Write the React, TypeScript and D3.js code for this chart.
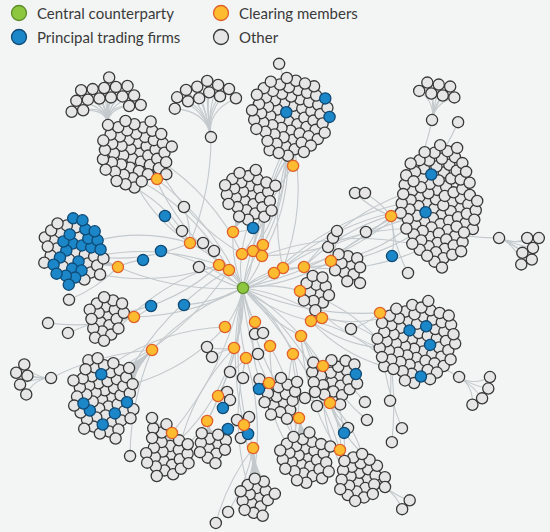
import React, { useMemo } from "react";
import * as d3 from "d3";

const W = 550;
const H = 532;

// ---------- Legend ----------
const legendLabels = ["Central counterparty", "Principal trading firms", "Clearing members", "Other"];
const legendKinds = ["ccp", "ptf", "cm", "other"];

// ---------- Clearing members (hubs): polar position around the CCP (deg, dist) ----------
const hubAngle = [-67.7, -25.9, -170.5, -128.3, -100.1, 145.7, 165.1, 10.3, 116.1, 66.7, 59.1, 86.4, 105.1, 74.7, 44.3, -17.1, 3.0, -139.7, -65.1, -74.9, -91.7, -59.3, -136.2, -127.9, -26.6, -25.8, -19.0, 70.6, 114.8, 25.9, 20.8, 39.6, 98.5, 65.0, 52.9, 87.5, 103.0, 89.6, 52.9];
const hubDist = [132, 164.6, 126.8, 138.8, 56.9, 110.1, 112.8, 139.3, 161.4, 141.5, 188.8, 160.3, 137.8, 98.5, 111.7, 92.0, 57.1, 69.5, 47.4, 38.3, 34.0, 37.2, 33.2, 22.8, 44.7, 34.4, 64.5, 36.1, 43.0, 75.6, 84.5, 75.3, 60.7, 64.0, 82.8, 70.1, 110.9, 137.0, 144.2];

// ---------- Client clusters of each clearing member ----------
const clusterHub = [0, 1, 2, 3, 4, 5, 6, 7, 8, 9, 10, 11, 12, 13, 14, 15, 16];
const clusterAngle = [-93, -13, -160, -128, -64.7, 135.6, 178, 38.5, 104.7, 80, 54.5, 86.5, 78.7, 53.7, 50.2, 17.4, 4];
const clusterDist = [50, 48, 47, 31, 40, 67, 28, 45, 20, 41, 34, 49, 26, 19, 16, 17, 14];
const clusterSize = [68, 95, 45, 50, 30, 55, 20, 70, 24, 30, 25, 16, 12, 16, 22, 10, 12];
const clusterAspect = [0.95, 2.3, 1.1, 1, 1, 1.3, 1, 0.9, 1, 1, 1, 1, 1, 1, 1, 1, 1];
// principal trading firms inside each cluster: polar spot around the cluster centre (deg, dist)
const clusterBlueAngle = [
  [180, -28.4, -1.4],
  [-95, 135],
  [-72.4, -80, -48.1, -30.7, -100, -67.2, -49.4, -26.6, -138, -78.7, -45, -9.5, 160.3, 149, 63.4, 143.6, 100.6, 60.9, 135, 122.5, 106.7, 113.4],
  [], [],
  [-107.7, 151, 129.8, 88, 51.8, 15],
  [],
  [-118.3, -53.7, 28.6, 77],
  [], [], [], [], [], [],
  [-6.8],
  [], [],
];
const clusterBlueDist = [
  [7, 42, 42],
  [34, 14],
  [43, 34.5, 39, 43, 17.3, 20.6, 27.7, 33.5, 13.5, 5.1, 12.7, 24.3, 14.9, 5.8, 8.9, 23.6, 16.3, 20.6, 35.4, 26.1, 31.3, 40.3],
  [], [],
  [23, 22.8, 23.4, 28, 17.8, 26.9],
  [],
  [14.8, 18.6, 12.5, 40],
  [], [], [], [], [], [],
  [25.2],
  [], [],
];

// ---------- Secondary fans (an "other" node with its own counterparties) ----------
const fanParent = [3, 17, 1, 1, 5, 7, 10, 0, 1];
const fanSubAngle = [-132.2, -78.8, -66.9, 11.5, 164.5, 39, 39.4, -97.8, -54.5];
const fanSubDist = [72.9, 108, 104.4, 110.2, 104.8, 101.7, 58.3, 103, 115.4];
const fanAngle = [-94.5, -100, -79.4, 22.4, 180, 32.7, 38, 0, 0];
const fanDist = [36, 48, 32.6, 34, 30, 31, 28, 0, 0];
const fanSize = [16, 12, 7, 6, 5, 4, 2, 0, 0];

// ---------- Single firms (polar around CCP), linked to a clearing member (-1 = CCP) ----------
const singleAngle = [-137.3, -155.7, -164.4, 168.9, 163.9, -80.5, -12.1, 55.1, 99.5, 96.1, 88, 81,
  -136.9, -126.1, -154.5, -131.6, -128.1, -25.7, -29.1, -31.2, -40.3, -37.9, -24.5, -5.2, 121.4, 114.2, 98.8, 90, 77.2, 60.1, 60.6, 55.3, 57.9, 53.1, 43.1, 46.8, 37.5, 41.4, 46, 123.9, 125, 121.2, 93.8, 96.6, 169.8, 165.6, 176.1, 92.6, 87.3, 90.8, 98.7, 96.6, 20.8, -2.4, 75.4, 66];
const singleDist = [106.2, 90, 103.8, 93.7, 61.4, 60.8, 152.4, 176.7, 121.7, 141.8, 146.1, 102.3,
  83.5, 100.2, 48.8, 60.2, 47, 94.4, 103, 109.9, 146.9, 154.6, 135.1, 165.7, 69.1, 75.6, 85, 90, 67.7, 108.4, 126.3, 126.5, 139.3, 175, 167, 181.1, 185.4, 211.9, 214.3, 202.5, 158.7, 175.4, 224.5, 236.5, 198.1, 180.7, 174.4, 132.1, 129.1, 150, 105.2, 112.8, 115.5, 117.1, 47.5, 49.2];
const singleParent = [17, -1, 2, 6, -1, 4, 1, 38, 36, 37, 37, 13,
  17, 17, -1, 17, 22, 15, 15, 15, 1, 1, 1, 1, 32, 32, 35, 35, 33, 34, 38, 38, 38, 38, 14, 14, 7, 7, 7, 5, 8, 8, 11, 11, 6, 6, 2, 37, 37, 37, 36, 36, 7, 15, 27, 27];
const singleKind = ["ptf", "ptf", "ptf", "ptf", "ptf", "ptf", "ptf", "ptf", "ptf", "ptf", "ptf", "ptf",
  "other", "other", "other", "other", "other", "other", "other", "other", "other", "other", "other", "other", "other", "other", "other", "other", "other", "other", "other", "other", "other", "other", "other", "other", "other", "other", "other", "other", "other", "other", "other", "other", "other", "other", "other", "other", "other", "other", "other", "other", "other", "other", "other", "other"];

// ---------- Extra links: clearing member -> clients in another cluster ----------
const crossFrom = [18, 19, 21, 20, 23, 17, 22, 17, 24, 25, 26, 15, 16, 29, 30, 31, 34, 38, 33, 27, 32, 35, 28, 23, 22, 36, 37, 31, 14, 13, 19, 21, 24, 20];
const crossTo = [0, 0, 0, 4, 3, 3, 2, 2, 1, 1, 1, 1, 7, 7, 7, 10, 9, 10, 9, 13, 8, 11, 5, 5, 6, 8, 11, 14, 10, 9, 4, 1, 0, 3];
const crossCount = [3, 2, 2, 2, 2, 2, 2, 2, 3, 2, 3, 2, 2, 3, 2, 2, 2, 2, 2, 1, 2, 2, 2, 2, 2, 1, 1, 2, 2, 1, 2, 2, 2, 2];

const FILL: Record<string, string> = { ccp: "#8dc63f", ptf: "#1b86c8", cm: "#fdbb30", other: "#e6e6e6" };
const STROKE: Record<string, string> = { ccp: "#5f8f2c", ptf: "#0f4a75", cm: "#e0602a", other: "#383838" };

const GOLDEN = Math.PI * (3 - Math.sqrt(5));

type Nd = any;
type Lk = { s: Nd; t: Nd; ctrl?: [number, number]; bend?: number };

function polar(a: number, d: number): [number, number] {
  const r = (a * Math.PI) / 180;
  return [Math.cos(r) * d, Math.sin(r) * d];
}

function buildLayout() {
  const nodes: Nd[] = [];
  const links: Lk[] = [];
  const add = (n: Nd) => {
    nodes.push(n);
    return n;
  };
  const ccp = add({ kind: "ccp", x: 0, y: 0, fx: 0, fy: 0, cr: 6 });
  const hubs = hubAngle.map((a, i) => {
    const [x, y] = polar(a, hubDist[i]);
    return add({ kind: "cm", x, y, fx: x, fy: y, cr: 5.5 });
  });
  hubs.forEach((h, i) => links.push({ s: ccp, t: h, bend: i % 2 ? 0.12 : -0.12 }));

  const clusters = clusterHub.map((hi, ci) => {
    const h = hubs[hi];
    const [ox, oy] = polar(clusterAngle[ci], clusterDist[ci]);
    const cx = h.fx + ox;
    const cy = h.fy + oy;
    const s = Math.sqrt(clusterAspect[ci]);
    const leaves = d3.range(clusterSize[ci]).map((i) => {
      const r = 6.6 * Math.sqrt(i + 0.5);
      const a = i * GOLDEN;
      return add({ kind: "other", x: cx + (r * Math.cos(a)) / s, y: cy + r * Math.sin(a) * s, tx: cx, ty: cy, cr: 4.75, free: true, kx: 0.06 * s, ky: 0.06 / s });
    });
    leaves.forEach((l) => links.push({ s: h, t: l, ctrl: [h.fx + ox * 0.55, h.fy + oy * 0.55] }));
    return { hub: h, leaves, cx, cy };
  });

  const fanLeaves: Nd[] = [];
  fanParent.forEach((pi, fi) => {
    const p = hubs[pi];
    const [sx, sy] = polar(fanSubAngle[fi], fanSubDist[fi]);
    const sub = add({ kind: "other", x: p.fx + sx, y: p.fy + sy, fx: p.fx + sx, fy: p.fy + sy, cr: 5 });
    links.push({ s: p, t: sub, bend: 0.1 });
    const [ox, oy] = polar(fanAngle[fi], fanDist[fi]);
    const cx = sub.fx + ox;
    const cy = sub.fy + oy;
    d3.range(fanSize[fi]).forEach((i) => {
      const r = 7 * Math.sqrt(i + 0.5);
      const a = i * GOLDEN;
      const l = add({ kind: "other", x: cx + r * Math.cos(a), y: cy + r * Math.sin(a), tx: cx, ty: cy, cr: 5.8, free: true, kx: 0.015, ky: 0.015, sx: sub.fx, sy: sub.fy, ring: fanDist[fi] });
      fanLeaves.push(l);
      links.push({ s: sub, t: l, ctrl: [sub.fx + ox * 0.55, sub.fy + oy * 0.55] });
    });
  });

  singleAngle.forEach((a, i) => {
    const [x, y] = polar(a, singleDist[i]);
    const n = add({ kind: singleKind[i], x, y, fx: x, fy: y, cr: 5 });
    const p = singleParent[i] < 0 ? ccp : hubs[singleParent[i]];
    links.push({ s: p, t: n, bend: i % 2 ? 0.1 : -0.1 });
  });

  // keeps each fan's nodes at roughly the same distance from the node they fan out of
  const ring = (alpha: number) => {
    for (const n of fanLeaves) {
      const dx = n.x - n.sx;
      const dy = n.y - n.sy;
      const d = Math.hypot(dx, dy) || 1;
      const k = ((n.ring - d) / d) * alpha * 0.25;
      n.vx += dx * k;
      n.vy += dy * k;
    }
  };

  const sim = d3
    .forceSimulation(nodes)
    .force("collide", d3.forceCollide((d: Nd) => d.cr).strength(0.75).iterations(2))
    .force("x", d3.forceX((d: Nd) => (d.free ? d.tx : d.x)).strength((d: Nd) => (d.free ? d.kx : 0)))
    .force("y", d3.forceY((d: Nd) => (d.free ? d.ty : d.y)).strength((d: Nd) => (d.free ? d.ky : 0)))
    .force("ring", ring)
    .stop();
  sim.tick(320);

  // mark principal trading firms: the leaf nearest to each listed spot
  clusters.forEach((cl, ci) => {
    clusterBlueAngle[ci].forEach((a, j) => {
      const [ox, oy] = polar(a, clusterBlueDist[ci][j]);
      const px = cl.cx + ox;
      const py = cl.cy + oy;
      let best: Nd = null;
      let bd = Infinity;
      for (const l of cl.leaves) {
        if (l.kind === "ptf") continue;
        const d = Math.hypot(l.x - px, l.y - py);
        if (d < bd) {
          bd = d;
          best = l;
        }
      }
      if (best) best.kind = "ptf";
    });
  });

  crossFrom.forEach((hi, k) => {
    const h = hubs[hi];
    const cl = clusters[crossTo[k]];
    const sorted = cl.leaves.slice().sort((a: Nd, b: Nd) => Math.hypot(a.x - h.x, a.y - h.y) - Math.hypot(b.x - h.x, b.y - h.y));
    for (let j = 0; j < crossCount[k]; j++) {
      const t = sorted[Math.min(sorted.length - 1, j * 4 + (hi % 3))];
      links.push({ s: h, t, bend: (hi + j) % 2 ? 0.14 : -0.14 });
    }
  });
  return { nodes, links };
}

export default function App() {
  const { nodes, links } = useMemo(buildLayout, []);
  const xs = d3.scaleLinear().domain([-243, 307]).range([0, W]);
  const ys = d3.scaleLinear().domain([-288, 244]).range([0, H]);

  const pathOf = (l: Lk) => {
    const x1 = xs(l.s.x), y1 = ys(l.s.y), x2 = xs(l.t.x), y2 = ys(l.t.y);
    let cx: number, cy: number;
    if (l.ctrl) {
      cx = xs(l.ctrl[0]);
      cy = ys(l.ctrl[1]);
    } else {
      const b = l.bend || 0;
      cx = (x1 + x2) / 2 - (y2 - y1) * b;
      cy = (y1 + y2) / 2 + (x2 - x1) * b;
    }
    const p = d3.path();
    p.moveTo(x1, y1);
    p.quadraticCurveTo(cx, cy, x2, y2);
    return p.toString();
  };

  const order = ["other", "ptf", "cm", "ccp"];
  const sortedNodes = nodes.slice().sort((a: Nd, b: Nd) => order.indexOf(a.kind) - order.indexOf(b.kind));

  const legX = [19, 19, 221, 221];
  const legY = [13, 37, 13, 37];

  return (
    <svg width={W} height={H} style={{ position: "absolute", left: 0, top: 0, display: "block" }} fontFamily="Lato, 'Open Sans', sans-serif">
      <rect width={W} height={H} fill="#f3f5f5" />
      <g fill="none" stroke="#c3c9cc" strokeWidth={1.1}>
        {links.map((l, i) => (
          <path key={i} d={pathOf(l)} />
        ))}
      </g>
      <g strokeWidth={1.3}>
        {sortedNodes.map((n: Nd, i: number) => (
          <circle key={i} cx={xs(n.x)} cy={ys(n.y)} r={5.6} fill={FILL[n.kind]} stroke={STROKE[n.kind]} />
        ))}
      </g>
      <g>
        {legendLabels.map((t, i) => (
          <g key={t}>
            <circle cx={legX[i]} cy={legY[i]} r={7.5} fill={FILL[legendKinds[i]]} stroke={STROKE[legendKinds[i]]} strokeWidth={1.3} />
            <text x={legX[i] + 18} y={legY[i] + 6} fontSize={15} fill="#3a3a3a">
              {t}
            </text>
          </g>
        ))}
      </g>
    </svg>
  );
}
